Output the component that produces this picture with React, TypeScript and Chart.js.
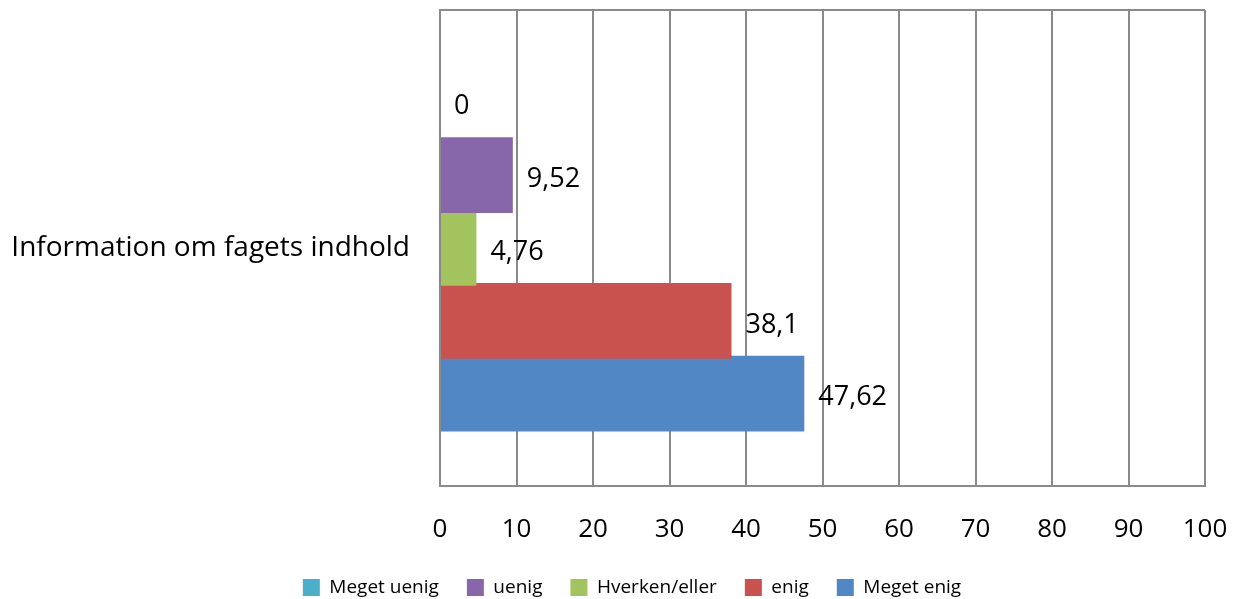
import React, { useEffect, useRef } from "react";
import { Chart, registerables } from "chart.js";

Chart.register(...registerables);

const categories = ["Information om fagets indhold"];
const seriesNames = ["Meget uenig", "uenig", "Hverken/eller", "enig", "Meget enig"];
const meget_uenig = [0];
const uenig = [9.52];
const hverken = [4.76];
const enig = [38.1];
const meget_enig = [47.62];
const seriesColors = ["#4BAFCB", "#8767A9", "#A3C35E", "#C9524F", "#5287C6"];
const xTicks = [0, 10, 20, 30, 40, 50, 60, 70, 80, 90, 100];

const FONT = '"Open Sans", "Noto Sans", sans-serif';
const GRID = "#8a8a8a";

const fmt = (v: number) => String(v).replace(".", ",");

const valueLabels = {
  id: "valueLabels",
  afterDatasetsDraw(chart: any) {
    const ctx = chart.ctx;
    ctx.save();
    ctx.font = `27px ${FONT}`;
    ctx.fillStyle = "#000";
    ctx.textAlign = "left";
    ctx.textBaseline = "middle";
    chart.data.datasets.forEach((ds: any, i: number) => {
      const meta = chart.getDatasetMeta(i);
      meta.data.forEach((el: any, j: number) => {
        ctx.fillText(fmt(ds.data[j]), el.x + 14, el.y + 4);
      });
    });
    ctx.restore();
  },
};

const zeroPad = (scale: any) => {
  scale.paddingTop = 0;
  scale.paddingBottom = 0;
  scale.paddingLeft = 0;
  scale.paddingRight = 0;
};

export default function App() {
  const ref = useRef<HTMLCanvasElement | null>(null);

  useEffect(() => {
    if (!ref.current) return;
    const data = [meget_uenig, uenig, hverken, enig, meget_enig];
    const chart = new Chart(ref.current, {
      type: "bar",
      data: {
        labels: categories,
        datasets: seriesNames.map((name, i) => ({
          label: name,
          data: data[i],
          backgroundColor: seriesColors[i],
          borderWidth: 0,
          barPercentage: 1.04,
          categoryPercentage: 0.765,
        })),
      },
      options: {
        indexAxis: "y",
        animation: false,
        responsive: true,
        maintainAspectRatio: false,
        layout: { padding: { top: 10, right: 28, bottom: -8, left: 59 } },
        plugins: {
          tooltip: { enabled: false },
          legend: {
            position: "bottom",
            labels: {
              boxWidth: 17,
              boxHeight: 17,
              padding: 28,
              color: "#000",
              font: { family: FONT, size: 19 },
            },
          },
        },
        scales: {
          x: {
            min: 0,
            max: 100,
            afterBuildTicks: (scale: any) => {
              scale.ticks = xTicks.map((v) => ({ value: v }));
            },
            afterFit: (scale: any) => {
              scale.height = 64;
              zeroPad(scale);
            },
            grid: { color: GRID, lineWidth: 2, drawTicks: false },
            border: { display: true, color: GRID, width: 2 },
            ticks: {
              padding: 28,
              color: "#000",
              font: { family: FONT, size: 26 },
              maxRotation: 0,
            },
          },
          y: {
            afterFit: (scale: any) => {
              scale.width = 381;
              zeroPad(scale);
              // let the long category label extend left of the axis box
              scale._computeLabelArea = () => undefined;
            },
            grid: { color: GRID, lineWidth: 2, drawTicks: false, offset: true },
            border: { display: true, color: GRID, width: 2 },
            ticks: {
              padding: 30,
              color: "#000",
              font: { family: FONT, size: 28 },
            },
          },
        },
      },
      plugins: [valueLabels],
    } as any);
    return () => chart.destroy();
  }, []);

  return (
    <div style={{ position: "fixed", left: 0, top: 0, width: 1233, height: 599, background: "#fff" }}>
      <canvas ref={ref} />
    </div>
  );
}
